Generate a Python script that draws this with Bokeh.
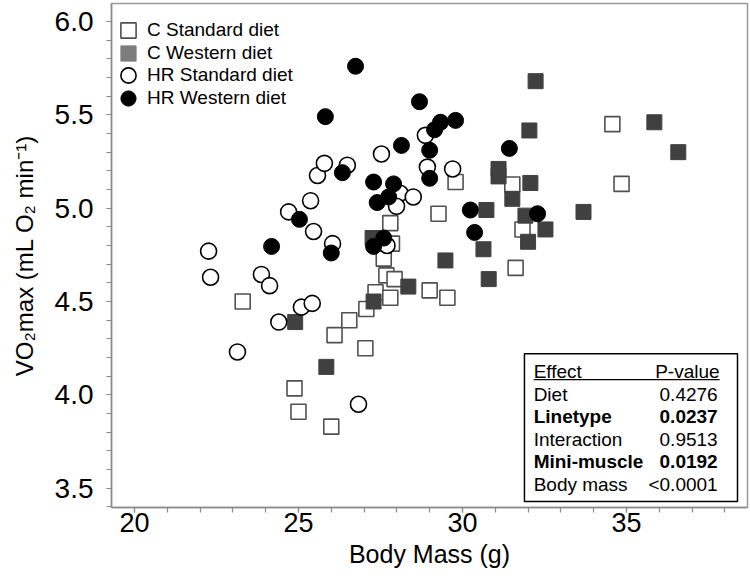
from bokeh.plotting import figure
from bokeh.models import (Legend, LegendItem, SingleIntervalTicker,
                          NumeralTickFormatter, BoxAnnotation, Label, Arrow)
from bokeh.embed import file_html
from bokeh.resources import INLINE

# ---------------- data ----------------
c_std_mass = [23.3, 24.88, 25.0, 26.0, 26.1, 26.55, 27.07, 27.04, 27.35, 27.8,
              27.68, 27.93, 27.6, 27.85, 27.8, 29.0, 29.54, 29.27, 29.79, 31.62,
              31.83, 31.52, 34.57, 34.85]
c_std_vo2 = [4.50, 4.035, 3.91, 3.83, 4.32, 4.40, 4.46, 4.25, 4.55, 4.52,
             4.64, 4.62, 4.73, 4.81, 4.92, 4.56, 4.52, 4.97, 5.14, 4.68,
             4.886, 5.127, 5.45, 5.13]

c_west_mass = [24.9, 25.85, 27.29, 27.26, 28.35, 29.48, 30.8, 30.64, 30.73, 31.1,
               31.1, 31.52, 32.07, 31.92, 32.0, 32.53, 33.69, 32.04, 32.23, 35.85,
               36.58]
c_west_vo2 = [4.39, 4.15, 4.50, 4.84, 4.58, 4.72, 4.62, 4.78, 4.99, 5.21,
              5.17, 5.05, 5.135, 4.96, 4.82, 4.886, 4.98, 5.416, 5.68, 5.46,
              5.30]

hr_std_mass = [22.26, 22.32, 23.14, 23.87, 24.12, 24.4, 25.09, 25.42, 24.7, 25.37,
               25.46, 26.04, 25.58, 25.79, 26.49, 26.83, 27.53, 27.7, 28.1, 28.5,
               27.99, 28.87, 28.93, 29.7]
hr_std_vo2 = [4.77, 4.63, 4.23, 4.645, 4.585, 4.39, 4.47, 4.49, 4.98, 5.04,
              4.875, 4.81, 5.175, 5.24, 5.23, 3.95, 5.29, 4.80, 5.08, 5.06,
              5.01, 5.39, 5.22, 5.21]

hr_west_mass = [24.18, 25.03, 26.0, 25.82, 26.74, 26.34, 27.29, 27.9, 27.4, 27.75,
                27.6, 27.29, 28.14, 28.69, 29.15, 29.33, 29.79, 29.0, 29.0, 30.24,
                30.37, 31.43, 32.29]
hr_west_vo2 = [4.795, 4.94, 4.76, 5.49, 5.76, 5.19, 5.14, 5.13, 5.03, 5.06,
               4.84, 4.795, 5.336, 5.57, 5.42, 5.46, 5.47, 5.31, 5.16, 4.99,
               4.87, 5.32, 4.97]

series_labels = ["C Standard diet", "C Western diet", "HR Standard diet", "HR Western diet"]
x_title = "Body Mass (g)"
y_title = "VO\u2082max (mL O\u2082 min\u207b\u00b9)"

table_header = ["Effect", "P-value"]
effects = ["Diet", "Linetype", "Interaction", "Mini-muscle", "Body mass"]
p_values = ["0.4276", "0.0237", "0.9513", "0.0192", "<0.0001"]
significant = [False, True, False, True, False]

# ---------------- figure ----------------
FONT = "Liberation Sans"
AX = "#8a8a8a"

p = figure(width=750, height=579, output_backend="svg", toolbar_location=None,
           x_range=(19.30, 38.69), y_range=(3.397, 6.096),
           min_border_left=111, min_border_right=3, min_border_top=3,
           min_border_bottom=72)

p.xgrid.visible = False
p.ygrid.visible = False
p.outline_line_color = "#9a9a9a"
p.outline_line_width = 1.5

p.xaxis.ticker = SingleIntervalTicker(interval=5, num_minor_ticks=5)
p.yaxis.ticker = SingleIntervalTicker(interval=0.5, num_minor_ticks=5)
p.yaxis.formatter = NumeralTickFormatter(format="0.0")
p.xaxis.axis_label = x_title
p.yaxis.axis_label = y_title

for ax in (p.xaxis[0], p.yaxis[0]):
    ax.axis_line_color = AX
    ax.axis_line_width = 1.5
    ax.major_tick_line_color = AX
    ax.minor_tick_line_color = AX
    ax.major_tick_line_width = 1.2
    ax.minor_tick_line_width = 1.2
    ax.major_tick_out = 5
    ax.major_tick_in = 0
    ax.minor_tick_out = 5
    ax.minor_tick_in = 0
    ax.major_label_text_font = FONT
    ax.major_label_text_font_size = "27px"
    ax.major_label_text_color = "black"
    ax.axis_label_text_font = FONT
    ax.axis_label_text_font_size = "25px"
    ax.axis_label_text_font_style = "normal"
    ax.axis_label_text_color = "black"

p.yaxis.major_label_text_font_size = "28px"
p.yaxis.axis_label_text_font_size = "24px"
p.xaxis.major_label_standoff = 0
p.xaxis.axis_label_standoff = 5
p.yaxis.major_label_standoff = 13
p.yaxis.axis_label_standoff = 14

# ---------------- points ----------------
r1 = p.scatter(c_std_mass, c_std_vo2, marker="square", size=15,
               fill_color="white", line_color="#505050", line_width=1.6)
r2 = p.scatter(c_west_mass, c_west_vo2, marker="square", size=15,
               fill_color="#404040", line_color="#404040", line_width=1)
r3 = p.scatter(hr_std_mass, hr_std_vo2, marker="circle", size=16,
               fill_color="white", line_color="black", line_width=1.6)
r4 = p.scatter(hr_west_mass, hr_west_vo2, marker="circle", size=16,
               fill_color="black", line_color="black", line_width=1)
# legend key for C Western (lighter grey in the key)
r2_key = p.scatter(c_west_mass, c_west_vo2, marker="square", size=15,
                   fill_color="#7d7d7d", line_color="#7d7d7d", visible=False)

# one legend per entry so the keys can be large but closely spaced
legend_renderers = [r1, r2_key, r3, r4]
first_center, item_gap = 30.0, 22.6        # screen px from top of page
frame_bottom = 507.0
for i, (lab, rend) in enumerate(zip(series_labels, legend_renderers)):
    center = first_center + item_gap * i
    vy = frame_bottom - (center + 19)
    lg = Legend(items=[LegendItem(label=lab, renderers=[rend])],
                location=(-2, vy), glyph_width=38, glyph_height=38,
                spacing=0, label_standoff=0, margin=0, padding=0,
                background_fill_alpha=0, border_line_alpha=0,
                inactive_fill_alpha=0,
                label_text_font=FONT, label_text_font_size="19px",
                label_text_color="black")
    p.add_layout(lg)

# ---------------- inset table ----------------
box = BoxAnnotation(left=31.89, right=38.385, top=4.221, bottom=3.429,
                    fill_color="white", fill_alpha=1.0,
                    line_color="black", line_width=1.5, line_alpha=1.0)
p.add_layout(box)

tx_left, tx_right = 32.17, 37.84
base0, step = 4.125, 0.121
p.add_layout(Label(x=tx_left, y=base0, text=table_header[0], text_align="left",
                   text_baseline="alphabetic", text_font=FONT,
                   text_font_size="19px", text_color="black"))
p.add_layout(Label(x=tx_right, y=base0, text=table_header[1], text_align="right",
                   text_baseline="alphabetic", text_font=FONT,
                   text_font_size="19px", text_color="black"))
p.add_layout(Arrow(start=None, end=None, x_start=tx_left, y_start=4.082,
                   x_end=tx_right, y_end=4.082,
                   line_color="black", line_width=1.3))
for i, (eff, pv, sig) in enumerate(zip(effects, p_values, significant)):
    yb = base0 - step * (i + 1)
    style = "bold" if sig else "normal"
    p.add_layout(Label(x=tx_left, y=yb, text=eff, text_align="left",
                       text_baseline="alphabetic", text_font=FONT,
                       text_font_size="19px", text_font_style=style,
                       text_color="black"))
    p.add_layout(Label(x=tx_right - 0.06, y=yb, text=pv, text_align="right",
                       text_baseline="alphabetic", text_font=FONT,
                       text_font_size="19px", text_font_style=style,
                       text_color="black"))

open("out.html", "w").write(file_html(p, INLINE))
